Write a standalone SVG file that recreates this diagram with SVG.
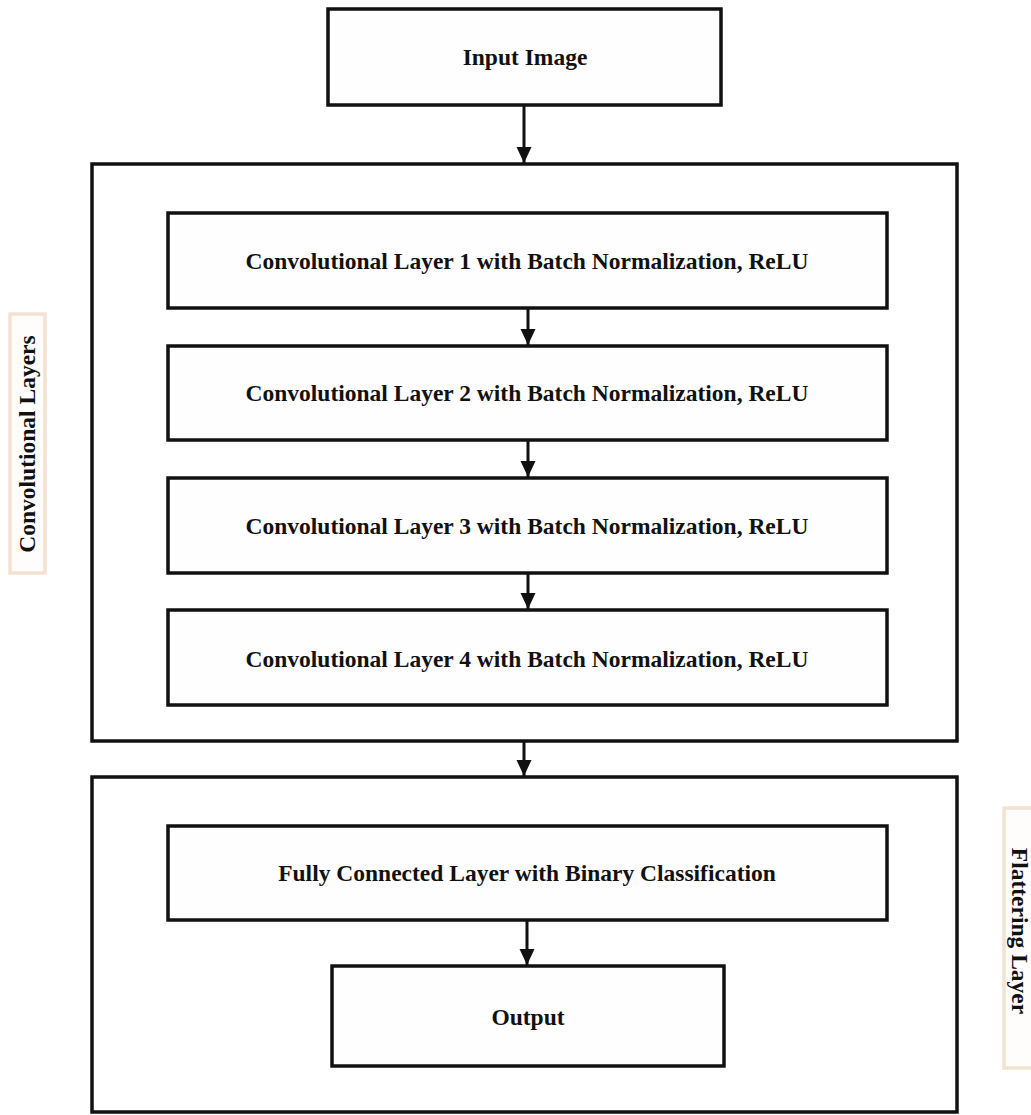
<svg xmlns="http://www.w3.org/2000/svg" width="1031" height="1115" viewBox="0 0 1031 1115">
<style>
.box{fill:#ffffff;stroke:#111111;stroke-width:3.5}
.inner{fill:#fefefe;stroke:#111111;stroke-width:3.5}
.lbl{font-family:"Liberation Serif","Times New Roman",serif;font-weight:bold;font-size:23.5px;fill:#111111;text-anchor:middle}
.side{fill:#fffdfb;stroke:#f3e2d2;stroke-width:3.5}
.conn{stroke:#111111;stroke-width:3;fill:none;marker-end:url(#arr)}
</style>
<defs>
<marker id="arr" markerWidth="16" markerHeight="16" viewBox="0 0 16 16" refX="16" refY="8" orient="auto" markerUnits="userSpaceOnUse">
<path d="M0,0.5 L16,8 L0,15.5 Z" fill="#111111"/>
</marker>
</defs>
<rect width="1031" height="1115" fill="#ffffff"/>
<g id="outer-conv"><rect class="box" x="92" y="164" width="865" height="577"/></g>
<g id="outer-flat"><rect class="box" x="92" y="777" width="865" height="335"/></g>
<g id="input"><rect class="inner" x="328" y="9" width="393" height="96"/><text class="lbl" x="525" y="65">Input Image</text></g>
<g id="conv1"><rect class="inner" x="168" y="213" width="719" height="95"/><text class="lbl" x="527" y="269">Convolutional Layer 1 with Batch Normalization, ReLU</text></g>
<g id="conv2"><rect class="inner" x="168" y="346" width="719" height="94"/><text class="lbl" x="527" y="401">Convolutional Layer 2 with Batch Normalization, ReLU</text></g>
<g id="conv3"><rect class="inner" x="168" y="478" width="719" height="95"/><text class="lbl" x="527" y="534">Convolutional Layer 3 with Batch Normalization, ReLU</text></g>
<g id="conv4"><rect class="inner" x="168" y="610" width="719" height="95"/><text class="lbl" x="527" y="667">Convolutional Layer 4 with Batch Normalization, ReLU</text></g>
<g id="fc"><rect class="inner" x="168" y="826" width="719" height="94"/><text class="lbl" x="527" y="881">Fully Connected Layer with Binary Classification</text></g>
<g id="output"><rect class="inner" x="332" y="966" width="392" height="100"/><text class="lbl" x="528" y="1025">Output</text></g>
<g id="label-conv"><rect class="side" x="10" y="314" width="35" height="259"/><text class="lbl" transform="translate(35,444) rotate(-90)">Convolutional Layers</text></g>
<g id="label-flat"><rect class="side" x="1004" y="808" width="40" height="260"/><text class="lbl" transform="translate(1012,931) rotate(90)">Flattering Layer</text></g>
<g id="connectors">
<line class="conn" x1="524" y1="106" x2="524" y2="163"/>
<line class="conn" x1="528" y1="309" x2="528" y2="345"/>
<line class="conn" x1="528" y1="441" x2="528" y2="477"/>
<line class="conn" x1="528" y1="574" x2="528" y2="609"/>
<line class="conn" x1="524" y1="742" x2="524" y2="776"/>
<line class="conn" x1="527" y1="921" x2="527" y2="965"/>
</g>
</svg>
